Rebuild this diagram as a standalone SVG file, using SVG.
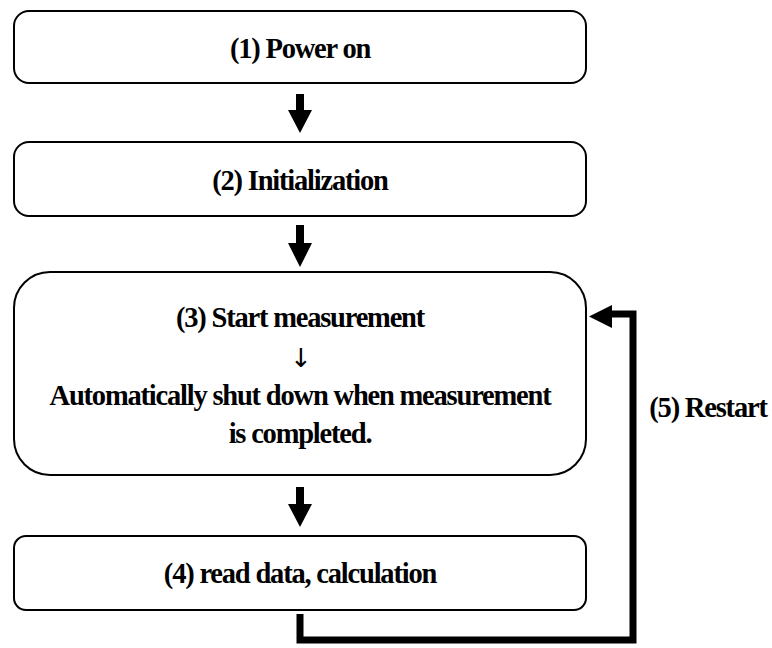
<svg xmlns="http://www.w3.org/2000/svg" width="772" height="648" viewBox="0 0 772 648">
<style>
.box{fill:#fff;stroke:#000;stroke-width:2}
.t{font-family:'Liberation Serif','DejaVu Serif',serif;font-weight:700;font-size:28.5px;letter-spacing:-1.2px;fill:#000;text-anchor:middle}
.arr{font-family:'DejaVu Sans',sans-serif;font-size:26px;fill:#000;text-anchor:middle}
.a{fill:#000}
</style>
<rect width="772" height="648" fill="#fff"/>
<g id="n1"><rect class="box" x="14" y="11" width="572" height="72" rx="15"/><text class="t" x="300" y="58">(1) Power on</text></g>
<g id="n2"><rect class="box" x="14" y="142" width="572" height="74" rx="15"/><text class="t" x="300" y="190">(2) Initialization</text></g>
<g id="n3"><rect class="box" x="14" y="272" width="572" height="203" rx="36"/>
<text class="t" x="300" y="327">(3) Start measurement</text>
<text class="arr" x="301" y="367">↓</text>
<text class="t" x="300" y="405">Automatically shut down when measurement</text>
<text class="t" x="300" y="443">is completed.</text></g>
<g id="n4"><rect class="box" x="14" y="536" width="572" height="74" rx="12"/><text class="t" x="300" y="583">(4) read data, calculation</text></g>
<g id="n5"><text class="t" x="708" y="417">(5) Restart</text></g>
<g id="connectors">
<path class="a" d="M296 94H304V110H312L300 133L288 110H296Z"/>
<path class="a" d="M296 225H304V243H312L300 267L288 243H296Z"/>
<path class="a" d="M296 487H304V504H312L300 527L288 504H296Z"/>
<path d="M300 614V640H633V314H606" fill="none" stroke="#000" stroke-width="7"/>
<path class="a" d="M589 316.5L612 305V328Z"/>
</g>
</svg>
